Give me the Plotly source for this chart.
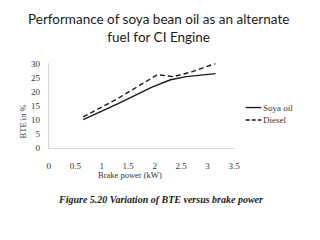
import plotly.graph_objects as go

soya_x = [0.65, 1.3, 1.95, 2.3, 2.6, 3.15]
soya_y = [10, 15.6, 21.6, 24.2, 25.3, 26.4]
diesel_x = [0.65, 1.3, 2.05, 2.35, 2.7, 3.15]
diesel_y = [11, 17.5, 26, 25.3, 27, 30]
x_ticks = [0, 0.5, 1, 1.5, 2, 2.5, 3, 3.5]
y_ticks = [0, 5, 10, 15, 20, 25, 30]

serif = "Liberation Serif, Times New Roman, serif"
ink = "#1a1a1a"

fig = go.Figure()
fig.add_trace(go.Scatter(x=soya_x, y=soya_y, mode="lines", name="Soya oil",
                         line=dict(color=ink, width=1.4, dash="solid")))
fig.add_trace(go.Scatter(x=diesel_x, y=diesel_y, mode="lines", name="Diesel",
                         line=dict(color=ink, width=1.4, dash="5px,3px")))

W, H = 320, 240
fig.update_layout(
    width=W, height=H, margin=dict(l=0, r=0, t=0, b=0),
    paper_bgcolor="white", plot_bgcolor="white", showlegend=False,
    xaxis=dict(domain=[48 / W, 238 / W], range=[0, 3.5], tickvals=x_ticks,
               ticktext=[str(v) for v in x_ticks],
               showgrid=False, zeroline=False, showline=True, linecolor="#d6d6d6",
               linewidth=1, ticks="outside", ticklen=9, tickcolor="rgba(0,0,0,0)",
               tickfont=dict(family=serif, size=9, color="#333")),
    yaxis=dict(domain=[1 - 149 / H, 1 - 61 / H], range=[0, 30], tickvals=y_ticks,
               showgrid=False, zeroline=False, showline=True, linecolor="#d6d6d6",
               linewidth=1, ticks="outside", ticklen=6, tickcolor="rgba(0,0,0,0)",
               tickfont=dict(family=serif, size=9, color="#333")),
)

def note(text, x, y, size, family=serif, color="#333", **kw):
    kw.setdefault("xanchor", "center")
    return dict(text=text, x=x / W, y=1 - y / H, xref="paper", yref="paper",
                showarrow=False, yanchor="middle",
                font=dict(family=family, size=size, color=color), **kw)

ann = [
    note("Performance of soya bean oil as an alternate<br>fuel for CI Engine", 160, 24, 13.5,
         family="Lato, sans-serif", color=ink, align="center"),
    note("Brake power (kW)", 131, 177, 8.5),
    note("BTE in %", 22, 121, 8.5, textangle=-90),
    note("<b><i>Figure 5.20 Variation of BTE versus brake power</i></b>", 163, 203, 10, color=ink),
    note("Soya oil", 266, 107, 9, xanchor="left"),
    note("Diesel", 266, 120, 9, xanchor="left"),
]
fig.update_layout(annotations=ann)

fig.add_shape(type="line", xref="paper", yref="paper", x0=250 / W, x1=266 / W,
              y0=1 - 107 / H, y1=1 - 107 / H, line=dict(color=ink, width=1.4))
fig.add_shape(type="line", xref="paper", yref="paper", x0=250 / W, x1=266 / W,
              y0=1 - 120 / H, y1=1 - 120 / H, line=dict(color=ink, width=1.4, dash="4px,2px"))

fig.write_html("out.html")
